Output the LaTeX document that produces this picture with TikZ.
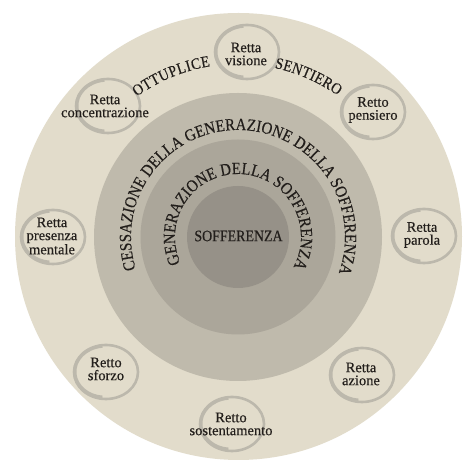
\documentclass[tikz,border=0pt]{standalone}
\usepackage{fontspec}
\setmainfont{Liberation Serif}[FakeBold=0.35]
\newfontfamily\arcface{Liberation Serif}[FakeStretch=0.87,FakeBold=0.4]
\usetikzlibrary{decorations.text,shapes.geometric}
\definecolor{paper}{RGB}{226,220,203}
\definecolor{ringA}{RGB}{191,186,172}
\definecolor{ringB}{RGB}{171,166,154}
\definecolor{ringC}{RGB}{150,145,136}
\definecolor{brush}{RGB}{188,184,172}
\definecolor{ink}{RGB}{34,30,27}
\newcommand\arcfont{\arcface\fontsize{17}{17}\selectfont}
\newcommand\labfont{\fontsize{14.5}{13}\selectfont}
\begin{document}
\begin{tikzpicture}[x=1pt,y=1pt,
  ringmark/.style={ellipse, draw=brush, line width=2.6pt, minimum width=64pt, minimum height=54pt, inner sep=0pt},
  brushextra/.style={draw=brush, line width=2.4pt},
  lbl/.style={align=center, font=\labfont, text=ink, inner sep=0pt},
  arctext/.style={decorate, decoration={text along path, text align=fit to path, text color=ink}}]
\useasboundingbox (0,0) rectangle (474,473);
\fill[white] (0,0) rectangle (474,473);
\coordinate (C) at (238,236);
% discs
\fill[paper] (238.5,236.5) circle[radius=223.5pt];
\fill[ringA] (C) circle[radius=144pt];
\fill[ringB] (C) circle[radius=97.5pt];
\fill[ringC] (C) circle[radius=51pt];
% rings
\node[ringmark] (rcon) at (108,367) {};
\node[ringmark] (rvis) at (247,421) {};
\node[ringmark] (rpen) at (373,361) {};
\node[ringmark] (rpar) at (424,237) {};
\node[ringmark] (razi) at (362,98) {};
\node[ringmark] (rsos) at (232,49) {};
\node[ringmark] (rsfo) at (106,101) {};
\node[ringmark] (rpre) at (53,236) {};
\foreach \r in {rcon,rvis,rpen,rpar,razi,rsos,rsfo,rpre}{
  \path[brushextra] ([shift={(-1pt,0.3pt)}]\r.center) ++(95:29.8pt and 25.2pt) arc[start angle=95, end angle=265, x radius=29.8pt, y radius=25.2pt];
}
% labels
\node[lbl] (tcon) at (105,367) {Retta\\concentrazione};
\node[lbl] (tvis) at (246,419) {Retta\\visione};
\node[lbl] (tpen) at (373,363) {Retto\\pensiero};
\node[lbl] (tpar) at (422,238) {Retta\\parola};
\node[lbl] (tazi) at (361,99) {Retta\\azione};
\node[lbl] (tsos) at (231,49) {Retto\\sostentamento};
\node[lbl] (tsfo) at (106,104) {Retto\\sforzo};
\node[lbl] (tpre) at (52,237) {Retta\\presenza\\mentale};
\node[font=\arcface\fontsize{16}{16}\selectfont, text=ink, inner sep=0pt] (tsof) at (238.5,237) {SOFFERENZA};
% arc texts
\path[arctext, decoration={text={|\arcfont|CESSAZIONE DELLA GENERAZIONE DELLA SOFFERENZA}}]
  (C) ++(197.5:107pt) arc[start angle=197.5, end angle=-19.7, radius=107pt];
\path[arctext, decoration={text={|\arcfont|GENERAZIONE DELLA SOFFERENZA}}]
  (C) ++(204.5:63pt) arc[start angle=204.5, end angle=-28.5, radius=63pt];
\path[arctext, decoration={text={|\arcface\fontsize{16}{16}\selectfont|OTTUPLICE}}]
  (C) ++(125.8:173pt) arc[start angle=125.8, end angle=99.2, radius=173pt];
\path[arctext, decoration={text={|\arcface\fontsize{16}{16}\selectfont|SENTIERO}}]
  (C) ++(77.8:173pt) arc[start angle=77.8, end angle=54.8, radius=173pt];
\end{tikzpicture}
\end{document}
